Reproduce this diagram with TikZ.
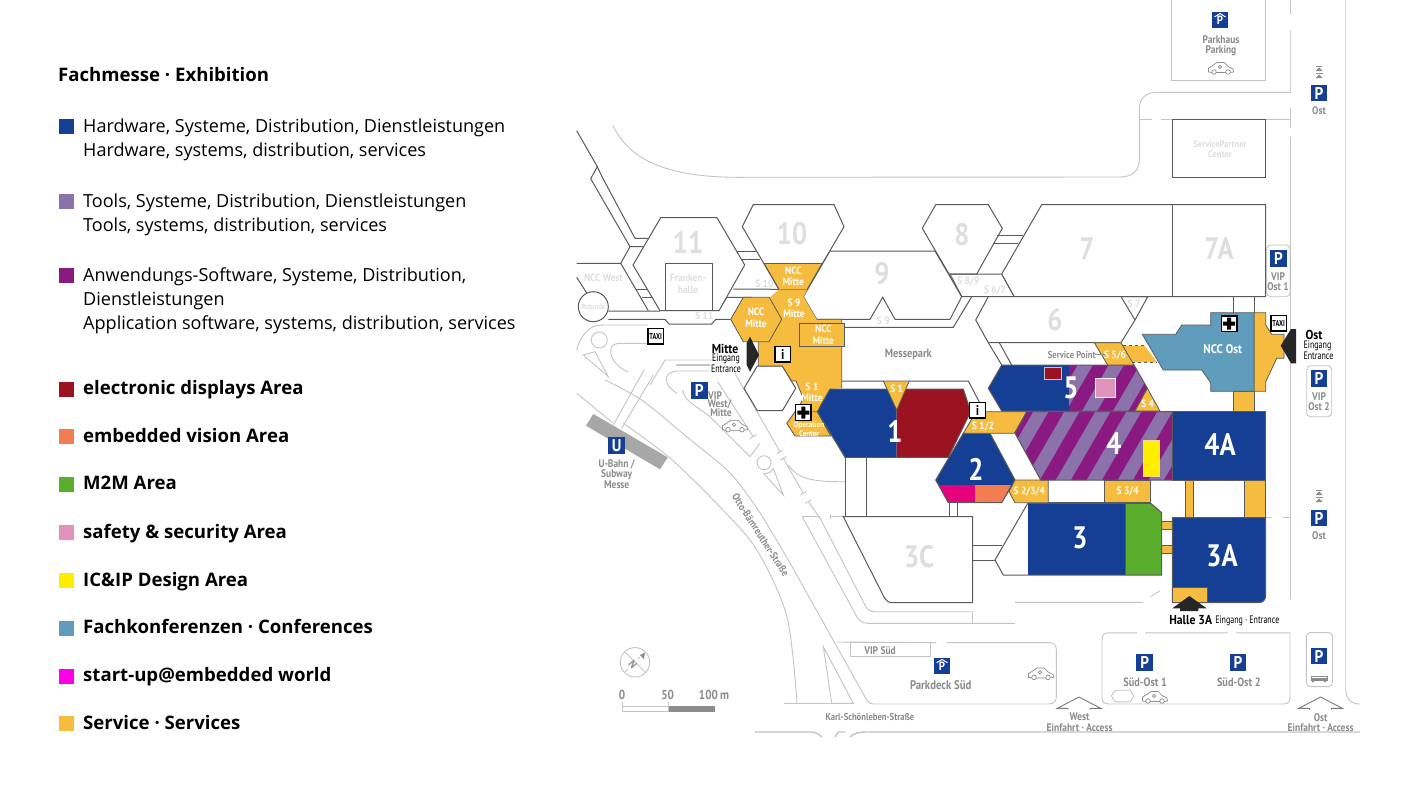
\documentclass[tikz,border=0pt]{standalone}
\usepackage{fontspec}
\setmainfont{Open Sans}
\newfontfamily\mapfont[FakeStretch=0.9]{PT Sans}
\newfontfamily\greyfont[FakeStretch=0.86]{PT Sans}
\newfontfamily\numfont[FakeStretch=0.86]{PT Sans}
\newfontfamily\condfont[FakeStretch=0.74]{PT Sans}
\usetikzlibrary{positioning}

\definecolor{fmblue}{HTML}{143F94}
\definecolor{fmlav}{HTML}{8B72AA}
\definecolor{fmpurple}{HTML}{8A1A82}
\definecolor{fmred}{HTML}{9B1321}
\definecolor{fmorange}{HTML}{F27D52}
\definecolor{fmgreen}{HTML}{5BAD2E}
\definecolor{fmpink}{HTML}{E293BB}
\definecolor{fmyellow}{HTML}{FFED00}
\definecolor{fmteal}{HTML}{609DBD}
\definecolor{fmmagenta}{HTML}{FF00E6}
\definecolor{fmstart}{HTML}{E5007E}
\definecolor{fmservice}{HTML}{F5BC40}
\definecolor{fmroad}{HTML}{C4C4C4}
\definecolor{fmline}{HTML}{5A5A5A}
\definecolor{fmtext}{HTML}{8C8C8C}
\definecolor{fmghost}{HTML}{DEDEDE}

\tikzset{
  legendhead/.style={anchor=base west,inner sep=0,font=\fontsize{18.6}{20}\selectfont\bfseries},
  legendtxt/.style={anchor=base west,inner sep=0,font=\fontsize{18.05}{20}\selectfont},
  legendbold/.style={anchor=base west,inner sep=0,font=\fontsize{18.6}{20}\selectfont\bfseries},
  swatch/.style={inner sep=0,minimum size=15,anchor=center},
  road/.style={draw=fmroad,line width=0.9},
  hallline/.style={draw=fmline,line width=1},
  servicearea/.style={fill=fmservice,draw=fmline,line width=0.8},
  hallghost/.style={text=fmghost,inner sep=0,font=\numfont\bfseries\fontsize{31}{31}\selectfont},
  hallwhite/.style={text=white,inner sep=0,font=\numfont\bfseries\fontsize{31}{31}\selectfont},
  smallghost/.style={text=fmghost,inner sep=0,align=center,font=\mapfont\bfseries\fontsize{10.5}{11.5}\selectfont},
  smallwhite/.style={text=white,inner sep=0,align=center,font=\mapfont\bfseries\fontsize{10.5}{11.5}\selectfont},
  greylbl/.style={text=fmtext,inner sep=0,align=center,font=\greyfont\bfseries\fontsize{11}{10.5}\selectfont},
  darklbl/.style={text=black,inner sep=0,font=\mapfont\bfseries\fontsize{13}{13}\selectfont},
  condlbl/.style={text=black,inner sep=0,font=\condfont\fontsize{10.8}{11}\selectfont},
  picon/.style={fill=fmblue,text=white,inner sep=0,minimum size=16.7,font=\mapfont\bfseries\fontsize{17}{17}\selectfont},
  iconbox/.style={fill=white,draw=black,line width=1.2,inner sep=0,minimum size=15.5,font=\mapfont\bfseries\fontsize{14}{14}\selectfont},
  taxibox/.style={iconbox,font=\condfont\bfseries\fontsize{8.5}{8.5}\selectfont},
  caricon/.pic={
    \draw[draw=fmtext,line width=0.7] (-9,4.5) -- (-12.5,4) -- (-12.5,0) -- (-9,-2) -- (-4,-5.5) -- (3,-5.5) -- (7,-1.5) -- (12,1) -- (12.5,4) -- (9.3,4.5);
    \draw[draw=fmtext,line width=0.7] (4.7,4.5) -- (-4.7,4.5) (-7,4) circle (2.3) (7,4) circle (2.3) (-1,-1) circle (1.7);
  },
  chevrons/.pic={
    \fill[fmtext] (-3.5,-1) -- (0,-4.5) -- (3.5,-1) -- cycle (-3.5,6) -- (0,2.5) -- (3.5,6) -- cycle;
    \draw[fmtext,line width=0.7] (-3,-6) -- (3,-6) (-3.5,1) -- (3.5,1);
  },
  accessarrow/.pic={
    \draw[draw=fmline!80,line width=0.9] (-11,7) -- (-11,5.6) -- (-21.7,5.6) -- (0,-5.7) -- (21.7,5.6) -- (11,5.6) -- (11,7);
  },
}

\begin{document}
\begin{tikzpicture}[x=1pt,y=-1pt]
  \useasboundingbox (0,0) rectangle (1410,793);
  \fill[white] (0,0) rectangle (1410,793);

  % legend
  \node[legendhead] (legHead) at (58,81.5) {Fachmesse · Exhibition};
  \node[swatch,fill=fmblue] (swHard) at (66.5,126.5) {};
  \node[legendtxt] (legHardDe) at (83,132.5) {Hardware, Systeme, Distribution, Dienstleistungen};
  \node[legendtxt] (legHardEn) at (83,156.5) {Hardware, systems, distribution, services};
  \node[swatch,fill=fmlav] (swTools) at (66.5,201) {};
  \node[legendtxt] (legToolsDe) at (83,207.5) {Tools, Systeme, Distribution, Dienstleistungen};
  \node[legendtxt] (legToolsEn) at (83,231.5) {Tools, systems, distribution, services};
  \node[swatch,fill=fmpurple] (swApp) at (66.5,275) {};
  \node[legendtxt] (legAppDe) at (83,281.5) {Anwendungs-Software, Systeme, Distribution,};
  \node[legendtxt] (legAppDeB) at (83,305.5) {Dienstleistungen};
  \node[legendtxt] (legAppEn) at (83,329.5) {Application software, systems, distribution, services};
  \node[swatch,fill=fmred] (swDisp) at (66.5,389) {};
  \node[legendbold] (legDisp) at (83,394.5) {electronic displays Area};
  \node[swatch,fill=fmorange] (swVis) at (66.5,436) {};
  \node[legendbold] (legVis) at (83,442.5) {embedded vision Area};
  \node[swatch,fill=fmgreen] (swMM) at (66.5,484) {};
  \node[legendbold] (legMM) at (83,489.5) {M2M Area};
  \node[swatch,fill=fmpink] (swSafe) at (66.5,532) {};
  \node[legendbold] (legSafe) at (83,538.5) {safety \& security Area};
  \node[swatch,fill=fmyellow] (swIC) at (66.5,580) {};
  \node[legendbold] (legIC) at (83,586.5) {IC\&IP Design Area};
  \node[swatch,fill=fmteal] (swConf) at (66.5,628) {};
  \node[legendbold] (legConf) at (83,633.5) {Fachkonferenzen · Conferences};
  \node[swatch,fill=fmmagenta] (swStart) at (66.5,676) {};
  \node[legendbold] (legStart) at (83,681.5) {start-up@embedded world};
  \node[swatch,fill=fmservice] (swServ) at (66.5,723) {};
  \node[legendbold] (legServ) at (83,729.5) {Service · Services};

  % roads north and east
  \draw[road] (612.7,125) .. controls (625,150) and (650,177) .. (736.7,177.3) -- (1120,177) .. controls (1133,177) and (1139.3,170) .. (1139.3,160) -- (1139.3,110) .. controls (1139.3,98) and (1146,92.3) .. (1156.7,92.3) -- (1290.7,92.3) -- (1290.7,30);
  \draw[road] (1290.7,0) -- (1290.7,14.3);
  \draw[road] (1290.7,107.7) -- (1290.7,128.3);
  \draw[road] (1290.7,137.3) -- (1290.7,599.3);
  \draw[road] (1345.7,0) -- (1345.7,688) .. controls (1345.7,698) and (1350,704) .. (1360,704);
  \draw[road] (1139.3,119.3) -- (1151.7,119.3) (1161,119.3) -- (1172.7,119.3) (1265.7,119.3) -- (1290.7,119.3);
  \draw[road] (1171.7,0) -- (1171.7,80.7) -- (1265.7,80.7) -- (1265.7,0);
  \draw[road] (1266,517.7) -- (1271.7,517.7) (1283.3,517.7) -- (1291,517.7);

  % roads west
  \draw[road] (576.7,393.3) -- (613,423);
  \draw[road] plot[smooth] coordinates {(623,423) (670,458) (720,507) (757,550) (787,617) (797,703)};
  \draw[road] plot[smooth] coordinates {(605,380) (641.7,400) (687,437) (730,473) (760,513) (790,563)};
  \draw[road] (790,563) -- (866.7,700) .. controls (868,703) and (871,704) .. (875,704) -- (1049,704) .. controls (1054,704) and (1056.3,701) .. (1056.3,697) -- (1056.3,650) .. controls (1056.3,645) and (1054,642.6) .. (1049,642.6) -- (946.5,642.6) (936.3,642.6) -- (836.7,642);
  \draw[road] (613.3,425) -- (644,370) (621.7,428.3) -- (653.3,375);
  \draw[road] (650,385) -- (665,360) -- (735,360);
  \draw[line width=1.6,fmroad] (676,365) -- (710,365);
  \draw[road] (710,371) -- (676.7,371) .. controls (664,373) and (661,382) .. (676.7,393.3);
  \draw[road] (683,390) .. controls (683,400) and (695,405) .. (710,416.7) -- (750,456.7) -- (760,443.3);
  \draw[road] (717.7,381.7) -- (753.3,436.7) (750,438.5) -- (756.5,434.5);
  \draw[road] (735,373.3) -- (780,451.7) (777,453.5) -- (783,450);
  \draw[road] (783.3,458.3) -- (803.3,493.3) (780.3,460) -- (786.3,456.5) (800.3,495) -- (806.3,491.5);
  \draw[road] (808.3,501.7) -- (820,518.3) (805.3,503.4) -- (811.3,500);
  \draw[road] (788.3,465) .. controls (797,478) and (810,482) .. (845,481.7);
  \draw[road] (764,462.7) circle (7);
  \draw[road] (763.3,473.3) -- (783.3,495) -- (773.3,468.3) .. controls (772,472) and (768,474) .. (763.3,473.3);
  \draw[road] (802.3,516.7) -- (855,613.3) .. controls (858,620) and (862,623.3) .. (868,623.3) -- (1015,623.3);
  \draw[road] (819.3,516.7) -- (865,605) .. controls (867,609) and (869,611.7) .. (875,611.7) -- (972.7,611.7);
  \draw[road] (802.3,516.7) -- (820,516.7) (830,516.7) -- (843,516.7) (830,514.5) -- (830,519);
  \draw[road] (972.7,611.7) -- (972.7,623.3);
  \draw[road] (1015,602.3) -- (1143.3,602.3) (1150.7,596.7) -- (1160,590.7);
  \draw[road] (599.3,340) circle (8);
  \draw[road] (583.3,355) -- (595,351.7) -- (608.3,376.7) -- cycle;
  \draw[road] (628,372) .. controls (615,366) and (608,355) .. (611.7,346.7) .. controls (613,344) and (617,343.3) .. (623.3,343.3) -- (648.3,343.3);
  \draw[road] (576.7,350) .. controls (579,342) and (582,335) .. (586.7,331.7) .. controls (590,327) and (595,325) .. (606,325) -- (648.3,325);

  % roads south
  \draw[road] (784.3,703.3) -- (853.3,703.3);
  \draw[road] (823.3,646.7) -- (853.3,703.3) -- (831.7,703.3) -- cycle;
  \node[draw=fmroad,line width=0.9,inner sep=0,minimum width=80,minimum height=14] (vipSued) at (890,649.5) {};
  \draw[road] (1136.8,632.8) -- (1109,632.8) .. controls (1104,632.8) and (1102,635) .. (1102,640) -- (1102,697) .. controls (1102,702) and (1104,704) .. (1109,704) -- (1283,704) .. controls (1288,704) and (1290,702) .. (1290,697) -- (1290,632.8) -- (1236.1,632.8) (1227.7,632.8) -- (1145.2,632.8);
  \draw[line width=1.4,fmroad] (755,732) -- (812,732) .. controls (818,733) and (820,735) .. (822,737) (835,737) -- (838,732) -- (845,732) (850,737) .. controls (854,733) and (860,732) .. (866,732) -- (1360,732);
  \draw[road,rounded corners=4] (1306.4,632.5) rectangle (1332.5,686.6);
  \draw[road,rounded corners=4] (1266.7,245) rectangle (1290,296.7);
  \draw[road,rounded corners=4] (1306.7,365.7) rectangle (1331.7,416.7);

  % U-Bahn bar
  \fill[fmroad!85!black] (593.3,414) -- (667.7,457.3) -- (660,469.3) -- (586,425.7) -- cycle;

  % west corridor
  \draw[hallline] (576.7,130.7) -- (597.3,166.7) -- (602.3,177.3) -- (635,238.3) -- (648.3,238.3);
  \draw[hallline] (597.3,166.7) -- (590.7,178.7) -- (630,246.7) -- (643.3,246.7);
  \draw[hallline] (630,246.7) -- (620.7,263.3) -- (576.7,263.3);
  \draw[hallline] (620.7,263.3) -- (648.3,310.7);
  \draw[hallline] (636,289) -- (646.7,289) (641.7,297.3) -- (651.7,297.3);
  \draw[hallline] (576.7,277.3) -- (586.7,293);
  \draw[hallline] (608.3,311) -- (660,311) (718.3,311) -- (726.7,297.3) -- (751.7,297.3);
  \draw[hallline] (608.3,319.3) -- (665,319.3) -- (669,324) -- (711.7,324) -- (715.7,319.3) -- (730.7,319.3);
  \draw[hallline] (733.3,289) -- (779,289.3);
  \draw[hallline] (736.7,251) -- (755.7,251) (741.7,259) -- (760,259);
  \draw[hallline,fill=white] (593.3,306.7) circle (15);

  % hall 11
  \draw[hallline,fill=white] (660.7,217.7) -- (717,217.7) -- (744.7,265) -- (719,310.7) -- (660,310.7) -- (633,265) -- cycle;
  \draw[hallline] (665,310.7) -- (665,263) -- (712,263) -- (712,310.7);
  % hall 10
  \draw[hallline,fill=white] (753.3,204.7) -- (834,204.7) -- (844,226.7) -- (807.3,289.3) -- (779,289.3) -- (742.3,226.7) -- cycle;
  % hall 9
  \draw[hallline,fill=white] (830,251) -- (935,251) -- (961.7,296.7) -- (950,319.3) -- (895,319.3) -- (882.7,297.3) -- (870,319.3) -- (816.7,319.3) -- (803.3,296.7) -- cycle;
  \draw[hallline] (843,327.3) -- (953.3,327.3) -- (971.7,296.7);
  % hall 8
  \draw[hallline,fill=white] (935.7,204.7) -- (988.3,204.7) -- (1002.3,228.3) -- (976.7,274) -- (949,274) -- (922.3,228.3) -- cycle;
  \draw[hallline] (950,274) -- (1001.7,274) -- (1014.3,296.7) -- (961.7,296.7) -- cycle;
  \draw[hallline] (996.7,235.7) -- (1023.3,235.7) (993,243.3) -- (1018,243.3);
  % hall 7 and 7A
  \draw[hallline,fill=white] (1041.7,204.7) -- (1265.7,204.7) -- (1265.7,296.7) -- (1014.3,296.7) -- (1001.7,274) -- cycle;
  \draw[hallline] (1172.3,204.7) -- (1172.3,296.7);
  % hall 6
  \draw[hallline,fill=white] (988.3,296.7) -- (1121,296.7) -- (1135,320) -- (1121,342.7) -- (988.3,342.7) -- (975.7,320) -- cycle;
  \draw[hallline] (1121,296.7) -- (1147.7,296.7) -- (1135,320);
  \draw[hallline] (988.3,342.7) -- (1001.7,365) (999.3,342.7) -- (1011.7,365);
  % service partner
  \draw[hallline] (1172.7,119.3) rectangle (1265.7,177);
  % lines under hall 1 and 2
  \draw[hallline] (845,457.3) -- (845,516.7) (866.3,457.3) -- (866.3,516.7) (949.3,502.7) -- (949.3,516.7) (957,502.7) -- (957,516.7);
  \draw[hallline] (841.7,381) -- (883.3,381) (909.3,381) -- (968.3,381) -- (979.3,402);
  % white hexagon next to entrance
  \draw[hallline,fill=white] (744,388.3) -- (757.3,366) -- (782.3,366) -- (795.7,388.3) -- (782.3,410.7) -- (757.3,410.7) -- cycle;
  % hall 3C
  \draw[hallline,fill=white] (843.3,516.7) -- (972.7,516.7) -- (972.7,602.7) -- (892,602.7) .. controls (888,602.7) and (886,600) .. (884,597) -- cycle;
  \draw[hallline] (972.7,545.3) -- (1002.3,545.3) (972.7,560) -- (995,560);
  \draw[hallline] (1027.7,503.3) -- (995,560) -- (1003.3,575) -- (1027.7,575);
  \draw[hallline] (1048.3,502.7) -- (1104,502.7);

  % central service block
  \fill[fmservice] (758.3,366) -- (758.3,341.7) -- (766,341.7) -- (781.7,320) -- (770,297.3) -- (779,289.3) -- (807.3,289.3) -- (803.3,296.7) -- (816.7,319.3) -- (841.7,319.3) -- (841.7,388.3) -- (830,389) -- (817.3,411.7) -- (796.7,411.7) -- (803.3,398.3) -- (796,381) -- (791.7,381) -- (782.3,366) -- cycle;
  \draw[fmline,line width=0.8] (758.3,366) -- (758.3,341.7) (816.7,319.3) -- (841.7,319.3) -- (841.7,388.3) (796.7,411.7) -- (803.3,398.3) -- (796,381) -- (791.7,381) -- (782.3,366) -- (758.3,366) (779,289.3) -- (807.3,289.3);
  \fill[fmservice] (764,263.3) -- (822.3,263.3) -- (807.3,289.3) -- (779,289.3) -- cycle;
  \draw[fmline,line width=0.8] (764,263.3) -- (822.3,263.3);
  \draw[hallline] (764,263.3) -- (779,289.3) (822.3,263.3) -- (807.3,289.3);
  \draw[servicearea] (730.7,319.3) -- (743.3,297.3) -- (769.3,297.3) -- (781.7,319.3) -- (769,341.7) -- (743.3,341.7) -- cycle;
  \draw[servicearea] (799.7,323.3) rectangle (844.3,346.7);
  \draw[servicearea] (786.7,423.3) -- (795,411.7) -- (817.3,411.7) -- (830.7,436) -- (795,436) -- cycle;

  % hall 1
  \fill[fmblue] (817.3,411.7) -- (830,389) -- (896.7,389) -- (896.7,457.3) -- (845,457.3) -- cycle;
  \fill[fmred] (896.7,389) -- (963.3,389) -- (970.7,411.7) -- (948.3,457.3) -- (896.7,457.3) -- cycle;
  \draw[hallline] (817.3,411.7) -- (830,389) -- (963.3,389) -- (970.7,411.7) -- (948.3,457.3) -- (845,457.3) -- cycle;
  \draw[servicearea] (883.3,381) -- (909.3,381) -- (896.7,410) -- cycle;

  % hall 2
  \fill[fmblue] (963.3,433.3) -- (990,433.3) -- (1015,480) -- (1001.7,502.7) -- (948.3,502.7) -- (935.7,480) -- cycle;
  \fill[fmstart] (939,485) -- (975,485) -- (975,502.7) -- (948.3,502.7) -- cycle;
  \fill[fmorange] (975,485) -- (1011,485) -- (1001.7,502.7) -- (975,502.7) -- cycle;
  \draw[hallline] (963.3,433.3) -- (990,433.3) -- (1015,480) -- (1001.7,502.7) -- (948.3,502.7) -- (935.7,480) -- cycle;
  \draw[servicearea] (976,411.7) -- (1026.7,411.7) -- (1014.3,433.3) -- (963.3,433.3) -- cycle;
  \draw[servicearea] (1015,480) -- (1048.3,480) -- (1048.3,502.7) -- (1015,502.7) -- (1009,491.7) -- cycle;
  \draw[servicearea] (1104,480) rectangle (1150.7,502.7);

  % hall 5
  \fill[fmblue] (988.3,388.3) -- (1001.7,365) -- (1069,365) -- (1069,411) -- (1001.7,411) -- cycle;
  \begin{scope}
    \clip (1069,365) -- (1134,365) -- (1147.3,388.3) -- (1135,411) -- (1069,411) -- cycle;
    \fill[fmlav] (1060,360) rectangle (1150,415);
    \foreach \sx in {1064.9,1095.9,...,1220}
      \fill[fmpurple] (\sx,360) -- (\sx+15.5,360) -- (\sx-16.4,415) -- (\sx-31.9,415) -- cycle;
  \end{scope}
  \draw[hallline] (1069,365) -- (1001.7,365) -- (988.3,388.3) -- (1001.7,411) -- (1135,411) -- (1147.3,388.3) -- (1134,365) -- cycle;
  \draw[servicearea] (1147.3,388.3) -- (1160,411) -- (1135,411) -- cycle;
  \fill[fmred,draw=fmroad,line width=0.6] (1044.3,367.3) rectangle (1061.7,379);
  \fill[fmpink,draw=white,line width=0.6] (1095,378.3) rectangle (1115,397.7);

  % hall 4
  \begin{scope}
    \clip (1026.7,411.7) -- (1172.3,411.7) -- (1172.3,480) -- (1040.7,480) -- (1015,433.3) -- cycle;
    \fill[fmlav] (1010,405) rectangle (1180,485);
    \foreach \sx in {1021.5,1052.5,...,1250}
      \fill[fmpurple] (\sx,405) -- (\sx+15.5,405) -- (\sx-30.9,485) -- (\sx-46.4,485) -- cycle;
  \end{scope}
  \draw[hallline] (1026.7,411.7) -- (1172.3,411.7) -- (1172.3,480) -- (1040.7,480) -- (1015,433.3) -- cycle;
  \fill[fmyellow,draw=fmservice!60,line width=0.6] (1143.3,440.7) rectangle (1159,476);

  % halls 4A, 3A, 3
  \draw[hallline,fill=fmblue] (1172.3,411.7) rectangle (1265.7,480);
  \draw[servicearea] (1185.7,480) rectangle (1193.3,517.7);
  \draw[servicearea] (1244.3,480) rectangle (1265.7,517.7);
  \draw[servicearea] (1161.7,521.7) rectangle (1172.3,529);
  \draw[servicearea] (1161.7,545) rectangle (1172.3,553.3);
  \draw[hallline,fill=fmblue] (1172.3,517.7) -- (1265.7,517.7) -- (1265.7,595) .. controls (1265.7,600) and (1263,602.7) .. (1258,602.7) -- (1172.3,602.7) -- cycle;
  \draw[servicearea] (1172.3,587) rectangle (1207.3,602.7);
  \fill[fmblue] (1027.7,503.3) rectangle (1125,575);
  \fill[fmgreen] (1125,503.3) -- (1150.7,503.3) -- (1161.7,512.7) -- (1161.7,575) -- (1125,575) -- cycle;
  \draw[hallline] (1027.7,503.3) -- (1150.7,503.3) -- (1161.7,512.7) -- (1161.7,575) -- (1027.7,575);
  \draw[hallline] (1125,503.3) -- (1125,575);

  % NCC Ost
  \draw[servicearea] (1233.3,391.3) rectangle (1254,411.5);
  \draw[hallline] (1233.3,296.7) -- (1233.3,312.7) (1254,296.7) -- (1254,312.7);
  \draw[servicearea] (1254,312.7) -- (1265.7,312.7) -- (1265.7,325) -- (1271.7,334.3) -- (1284,334.3) -- (1284,358.3) -- (1276.7,358.3) -- (1265.7,381.7) -- (1265.7,391.3) -- (1254,391.3) -- cycle;
  \draw[hallline,fill=fmteal,line width=0.8] (1210.7,312.7) -- (1254,312.7) -- (1254,391.3) -- (1210.7,391.3) -- (1210.7,382.7) -- (1201.7,370) -- (1163.3,370) -- (1142.3,334.3) -- (1175.7,334.3) -- (1181.7,325) -- (1210.7,325) -- cycle;

  % service point and link
  \fill[fmservice] (1123.3,345.7) -- (1144.3,345.7) -- (1157.3,362.3) -- (1132.3,362.3) -- cycle;
  \draw[fmline,dashed,line width=1] (1123.3,345.7) -- (1144.3,345.7) (1132.3,362.3) -- (1157.3,362.3);
  \draw[servicearea] (1094.3,342.7) -- (1121,342.7) -- (1134,365) -- (1107.7,365) -- cycle;
  \draw[fmtext,line width=0.8] (1095,354.7) -- (1105,354.7);

  % entrance arrows
  \fill[black!85] (750,336.7) -- (759,355) -- (750,371.7) -- (746.7,365) -- (746.7,343.3) -- cycle;
  \fill[black!85] (1291,329) -- (1280.7,345.7) -- (1291,363.3) -- (1296,363.3) -- (1296,329) -- cycle;
  \fill[black!85] (1189.3,596) -- (1206.7,608.3) -- (1198.3,608.3) -- (1198.3,611) -- (1180,611) -- (1180,608.3) -- (1172.3,608.3) -- cycle;

  % boxes with symbols
  \node[iconbox] (infoMitte) at (782.8,354.2) {i};
  \node[iconbox] (infoHall) at (977.5,410.3) {i};
  \node[iconbox] (crossMitte) at (803.3,412.5) {};
  \node[iconbox] (crossOst) at (1229.2,323.7) {};
  \fill[black] (801.3,406.5) rectangle (805.3,418.5) (797.3,410.5) rectangle (809.3,414.5);
  \fill[black] (1227.2,317.7) rectangle (1231.2,329.7) (1223.2,321.7) rectangle (1235.2,325.7);
  \node[taxibox] (taxiWest) at (655.7,336.3) {TAXI};
  \node[taxibox] (taxiOst) at (1278.7,323.3) {TAXI};

  % parking symbols
  \node[picon] (pNord) at (1220,20) {\raisebox{-3pt}{\fontsize{12}{12}\selectfont P}};
  \draw[white,line width=1] (1214.5,17) -- (1220,13.5) -- (1225.5,17);
  \node[picon] (pOstA) at (1319,93) {P};
  \node[picon] (pOstB) at (1319,518) {P};
  \node[picon] (pVipA) at (1278.6,258.3) {P};
  \node[picon] (pVipB) at (1319,378.3) {P};
  \node[picon] (pWest) at (699.3,390.2) {P};
  \node[picon] (pSued) at (942,666) {\raisebox{-3pt}{\fontsize{12}{12}\selectfont P}};
  \draw[white,line width=1] (936.5,662.7) -- (942,659.5) -- (947.5,662.7);
  \node[picon] (pSuedA) at (1144.7,662.6) {P};
  \node[picon] (pSuedB) at (1238,662.6) {P};
  \node[picon] (pBus) at (1319,656) {P};
  \node[picon] (pUBahn) at (616.7,445.7) {U};
  \fill[fmtext] (1310.5,675.8) rectangle (1327.7,681);
  \fill[white] (1311.5,677) rectangle (1326.7,678.2);
  \fill[fmtext] (1313,681.5) circle (1.2) (1325,681.5) circle (1.2);
  \draw[road] (1111.4,696) -- ++(4,-5.8) -- ++(14.6,0) -- ++(4,5.8) -- ++(-4,5.8) -- ++(-14.6,0) -- cycle;

  % cars and chevrons
  \pic at (1221,68) {caricon};
  \pic at (735,425.7) {caricon};
  \pic at (1041,673.4) {caricon};
  \pic at (1155,697) {caricon};
  \pic at (1319,72) {chevrons};
  \pic at (1319,496) {chevrons};

  % access arrows
  \pic at (1079,702.7) {accessarrow};
  \pic at (1320.6,702.7) {accessarrow};

  % compass and scale
  \draw[road] (635,662.3) circle (14.7);
  \draw[road] (625,652) -- (645,672) (625,672) -- (628,669) (638,659) -- (640,657);
  \fill[fmtext] (645,652.5) -- (640,655) -- (644,659) -- cycle;
  \node[inner sep=0,rotate=-50,text=fmtext,font=\mapfont\bfseries\fontsize{11}{11}\selectfont] (compassN) at (633,664.5) {N};
  \draw[road,fill=white] (622.3,706) rectangle (668.3,711.7);
  \fill[fmtext] (668.3,706) rectangle (715,711.7);
  \draw[road] (622.3,701.7) -- (622.3,711.7) (668.3,701.7) -- (668.3,711.7);
  \node[greylbl,font=\greyfont\bfseries\fontsize{13}{13}\selectfont] (scaleZero) at (622,695) {0};
  \node[greylbl,font=\greyfont\bfseries\fontsize{13}{13}\selectfont] (scaleFifty) at (667.7,695) {50};
  \node[greylbl,font=\greyfont\bfseries\fontsize{13}{13}\selectfont] (scaleHundred) at (714,695) {100\,m};

  % hall numbers
  \node[hallghost] (num11) at (688,242) {11};
  \node[hallghost] (num10) at (792,234) {10};
  \node[hallghost] (num9) at (882,274) {9};
  \node[hallghost] (num8) at (962,235) {8};
  \node[hallghost] (num7) at (1087,249) {7};
  \node[hallghost] (num7A) at (1219,249) {7A};
  \node[hallghost] (num6) at (1055,320) {6};
  \node[hallghost] (num3C) at (919,557) {3C};
  \node[hallwhite] (num1) at (895,431) {1};
  \node[hallwhite] (num2) at (976,469) {2};
  \node[hallwhite] (num3) at (1080,538) {3};
  \node[hallwhite] (num3A) at (1222,556) {3A};
  \node[hallwhite] (num4) at (1114,444) {4};
  \node[hallwhite] (num4A) at (1220,445) {4A};
  \node[hallwhite] (num5) at (1071,388) {5};

  % pale labels
  \node[smallghost] (lblWest) at (603.3,278) {NCC West};
  \node[smallghost] (lblFranken) at (688,284) {Franken-\\halle};
  \node[smallghost,font=\mapfont\bfseries\fontsize{7.5}{8}\selectfont] (lblRotunde) at (593.3,307) {Rotunde};
  \node[smallghost] (lblSten) at (764.3,283.7) {S 10};
  \node[smallghost] (lblSeleven) at (704.3,316) {S 11};
  \node[smallghost] (lblSnine) at (883.3,320.7) {S 9};
  \node[smallghost] (lblSeightnine) at (968.3,281) {S 8/9};
  \node[smallghost] (lblSsixseven) at (995,290) {S 6/7};
  \node[smallghost] (lblSseven) at (1134,304) {S 7};
  \node[smallghost,font=\mapfont\bfseries\fontsize{9.5}{10}\selectfont] (lblPartner) at (1220,149) {ServicePartner\\Center};

  % labels on service areas
  \node[smallwhite] (lblNccA) at (793.3,276.5) {NCC\\Mitte};
  \node[smallwhite] (lblNccB) at (756,318) {NCC\\Mitte};
  \node[smallwhite] (lblNccC) at (823.3,335) {NCC\\Mitte};
  \node[smallwhite] (lblSnineM) at (794,308.5) {S 9\\Mitte};
  \node[smallwhite] (lblSoneM) at (812,392.5) {S 1\\Mitte};
  \node[smallwhite] (lblSone) at (896.7,389.3) {S 1};
  \node[smallwhite,font=\mapfont\bfseries\fontsize{8}{8.5}\selectfont] (lblOper) at (809,429) {Operation\\Center};
  \node[smallwhite] (lblSonetwo) at (983,426.7) {S 1/2};
  \node[smallwhite] (lblSfivesix) at (1115,355) {S 5/6};
  \node[smallwhite] (lblSfour) at (1147.7,404) {S 4};
  \node[smallwhite] (lblStwo) at (1029.3,491.7) {S 2/3/4};
  \node[smallwhite] (lblSthree) at (1127.7,491.7) {S 3/4};
  \node[smallwhite,font=\mapfont\bfseries\fontsize{12.5}{12.5}\selectfont] (lblNccOst) at (1222.7,349.3) {NCC Ost};

  % grey labels
  \node[greylbl,font=\greyfont\bfseries\fontsize{12}{12}\selectfont] (lblPark) at (908.3,354) {Messepark};
  \node[greylbl,font=\greyfont\bfseries\fontsize{10}{10}\selectfont] (lblService) at (1071.7,354.7) {Service Point};
  \node[greylbl] (lblParkhaus) at (1221,46) {Parkhaus\\Parking};
  \node[greylbl] (lblOstA) at (1319,111) {Ost};
  \node[greylbl] (lblOstB) at (1319,535.5) {Ost};
  \node[greylbl] (lblVipA) at (1278,281.5) {VIP\\Ost 1};
  \node[greylbl] (lblVipB) at (1319,401.5) {VIP\\Ost 2};
  \node[greylbl] (lblVipWa) at (715,395.7) {VIP};
  \node[greylbl] (lblVipWb) at (719.7,404.5) {West/};
  \node[greylbl] (lblVipWc) at (721,413) {Mitte};
  \node[greylbl] (lblUBahn) at (616.7,474) {U-Bahn /\\Subway\\Messe};
  \node[greylbl,rotate=-57,font=\greyfont\bfseries\fontsize{10.5}{10.5}\selectfont] (lblOtto) at (760.7,535) {Otto-Bärnreuther-Straße};
  \node[greylbl,font=\greyfont\bfseries\fontsize{10}{10}\selectfont] (lblKarl) at (870,717) {Karl-Schönleben-Straße};
  \node[greylbl] (lblVipS) at (880,650.4) {VIP Süd};
  \node[greylbl,font=\greyfont\bfseries\fontsize{12.5}{12.5}\selectfont] (lblDeck) at (940.7,685) {Parkdeck Süd};
  \node[greylbl,font=\greyfont\bfseries\fontsize{12}{12}\selectfont] (lblSuedA) at (1145.2,681.9) {Süd-Ost 1};
  \node[greylbl,font=\greyfont\bfseries\fontsize{12}{12}\selectfont] (lblSuedB) at (1238.8,681.9) {Süd-Ost 2};
  \node[greylbl] (lblAccessW) at (1079.6,722) {West\\Einfahrt · Access};
  \node[greylbl] (lblAccessO) at (1320.6,722.4) {Ost\\Einfahrt · Access};

  % dark labels
  \node[darklbl] (lblMitte) at (725,348.7) {Mitte};
  \node[condlbl] (lblMitteEin) at (726,359.2) {Eingang};
  \node[condlbl] (lblMitteEnt) at (726,369) {Entrance};
  \node[darklbl] (lblOst) at (1314,335.3) {Ost};
  \node[condlbl] (lblOstEin) at (1317.5,346) {Eingang};
  \node[condlbl] (lblOstEnt) at (1318.5,356) {Entrance};
  \node[darklbl] (lblHalle) at (1190.7,620) {Halle 3A};
  \node[condlbl] (lblHalleEin) at (1247.3,620.7) {Eingang · Entrance};
\end{tikzpicture}
\end{document}
